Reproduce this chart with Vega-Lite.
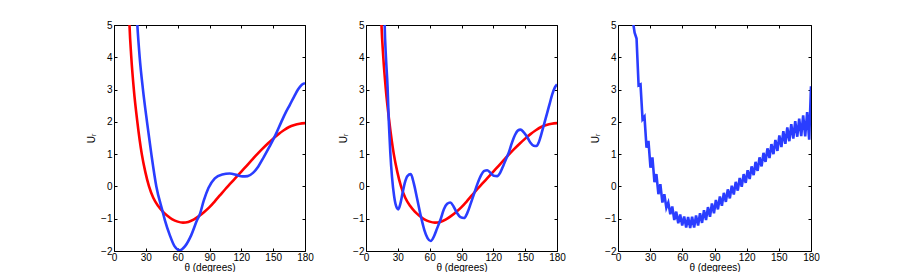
{
  "$schema": "https://vega.github.io/schema/vega-lite/v6.json",
  "padding": {"left": 86, "top": 20, "right": 0, "bottom": 0},
  "background": "white",
  "config": {
    "font": "Liberation Sans",
    "view": {"stroke": null},
    "axis": {
      "grid": false,
      "domainColor": "#000",
      "domainWidth": 1,
      "tickColor": "#000",
      "tickWidth": 1,
      "tickSize": -3,
      "labelColor": "#000",
      "titleColor": "#000",
      "labelFont": "Liberation Sans",
      "titleFont": "Liberation Sans",
      "labelFontSize": 10,
      "titleFontSize": 10,
      "titleFontWeight": "normal",
      "labelFlush": false,
      "labelOverlap": false,
      "labelPadding": 3
    },
    "axisBottom": {"labelPadding": 4, "titlePadding": 0},
    "axisLeft": {"labelPadding": 5}
  },
  "datasets": {
    "red": [
      {"t": 13.8, "u": 5.8}, {"t": 14.6, "u": 5.0}, {"t": 16.3, "u": 4.0}, {"t": 18.7, "u": 3.0},
      {"t": 22, "u": 2.0}, {"t": 26.2, "u": 1.0}, {"t": 29.5, "u": 0.45}, {"t": 33, "u": 0.0},
      {"t": 37, "u": -0.35}, {"t": 41.5, "u": -0.6}, {"t": 46, "u": -0.78},
      {"t": 50, "u": -0.9}, {"t": 55, "u": -1.02}, {"t": 60, "u": -1.09}, {"t": 65, "u": -1.12},
      {"t": 70, "u": -1.1}, {"t": 75, "u": -1.03}, {"t": 80, "u": -0.92}, {"t": 85, "u": -0.79},
      {"t": 90, "u": -0.64}, {"t": 95, "u": -0.46}, {"t": 100, "u": -0.27}, {"t": 105, "u": -0.08},
      {"t": 110, "u": 0.1}, {"t": 115, "u": 0.28}, {"t": 120, "u": 0.46}, {"t": 125, "u": 0.64},
      {"t": 130, "u": 0.82}, {"t": 135, "u": 1.0}, {"t": 140, "u": 1.17}, {"t": 145, "u": 1.33},
      {"t": 150, "u": 1.48}, {"t": 155, "u": 1.62}, {"t": 160, "u": 1.74}, {"t": 165, "u": 1.84},
      {"t": 170, "u": 1.9}, {"t": 175, "u": 1.94}, {"t": 180, "u": 1.96}
    ],
    "blue1": [
      {"t": 21, "u": 5.6}, {"t": 22, "u": 5.0}, {"t": 24.2, "u": 4.0}, {"t": 27.3, "u": 3.0},
      {"t": 31.1, "u": 2.0}, {"t": 35.2, "u": 1.0}, {"t": 39.9, "u": 0.0}, {"t": 45.6, "u": -0.75},
      {"t": 48, "u": -1.05}, {"t": 52.5, "u": -1.5}, {"t": 57, "u": -1.85}, {"t": 62, "u": -1.98},
      {"t": 67, "u": -1.85}, {"t": 72.9, "u": -1.5}, {"t": 78.2, "u": -1.05}, {"t": 81, "u": -0.85},
      {"t": 84.5, "u": -0.45}, {"t": 89, "u": -0.05}, {"t": 95, "u": 0.25}, {"t": 102, "u": 0.37},
      {"t": 109, "u": 0.4}, {"t": 116, "u": 0.35}, {"t": 121, "u": 0.31}, {"t": 126, "u": 0.32},
      {"t": 131, "u": 0.42}, {"t": 136, "u": 0.62}, {"t": 141, "u": 0.9}, {"t": 146, "u": 1.2},
      {"t": 152, "u": 1.58}, {"t": 157.7, "u": 2.0}, {"t": 162, "u": 2.3}, {"t": 165.6, "u": 2.52},
      {"t": 170, "u": 2.8}, {"t": 173.4, "u": 3.0}, {"t": 177, "u": 3.15}, {"t": 180, "u": 3.2}
    ],
    "blue2": [
      {"t": 16.8, "u": 6.5}, {"t": 17.6, "u": 5.0}, {"t": 18.8, "u": 4.0}, {"t": 20.3, "u": 3.1},
      {"t": 21.5, "u": 2.0}, {"t": 22.9, "u": 1.05}, {"t": 24.5, "u": 0.3}, {"t": 26.5, "u": -0.3},
      {"t": 28.5, "u": -0.62}, {"t": 30.4, "u": -0.71}, {"t": 32.3, "u": -0.55}, {"t": 34.5, "u": -0.2},
      {"t": 36.5, "u": 0.1}, {"t": 39, "u": 0.32}, {"t": 42.2, "u": 0.38}, {"t": 45, "u": 0.1},
      {"t": 48, "u": -0.35}, {"t": 51.6, "u": -0.91}, {"t": 55, "u": -1.35}, {"t": 58, "u": -1.6},
      {"t": 61, "u": -1.69}, {"t": 64, "u": -1.55}, {"t": 67, "u": -1.3}, {"t": 70.5, "u": -1.0},
      {"t": 73.5, "u": -0.7}, {"t": 76.5, "u": -0.54}, {"t": 79.4, "u": -0.5}, {"t": 82.5, "u": -0.62},
      {"t": 85.6, "u": -0.81}, {"t": 89, "u": -0.95}, {"t": 92.4, "u": -0.98}, {"t": 95.5, "u": -0.82},
      {"t": 98.5, "u": -0.55}, {"t": 101.6, "u": -0.25}, {"t": 105, "u": 0.08}, {"t": 108.5, "u": 0.35},
      {"t": 111.5, "u": 0.48}, {"t": 114.2, "u": 0.5}, {"t": 117, "u": 0.43}, {"t": 120.3, "u": 0.33},
      {"t": 123.6, "u": 0.32}, {"t": 126.5, "u": 0.43}, {"t": 129.5, "u": 0.65}, {"t": 132, "u": 0.85},
      {"t": 134.6, "u": 1.05}, {"t": 137.5, "u": 1.35}, {"t": 140.5, "u": 1.6}, {"t": 143, "u": 1.73},
      {"t": 145.6, "u": 1.76}, {"t": 148.5, "u": 1.68}, {"t": 151.9, "u": 1.53}, {"t": 155, "u": 1.35},
      {"t": 158, "u": 1.26}, {"t": 160.7, "u": 1.25}, {"t": 163, "u": 1.38}, {"t": 165.5, "u": 1.65},
      {"t": 167.6, "u": 1.9}, {"t": 170.5, "u": 2.25}, {"t": 173, "u": 2.55}, {"t": 175.5, "u": 2.85},
      {"t": 178, "u": 3.07}, {"t": 180, "u": 3.16}
    ],
    "blue3": [
      {"t": 13.5, "u": 5.2}, {"t": 15.5, "u": 4.76}, {"t": 17.3, "u": 4.58}, {"t": 19.2, "u": 3.13},
      {"t": 21.0, "u": 3.16}, {"t": 22.9, "u": 2.08}, {"t": 24.7, "u": 2.16}, {"t": 26.6, "u": 1.2},
      {"t": 28.4, "u": 1.41}, {"t": 30.3, "u": 0.58}, {"t": 32.1, "u": 0.9}, {"t": 34.0, "u": 0.13},
      {"t": 35.8, "u": 0.38}, {"t": 37.7, "u": -0.24}, {"t": 39.5, "u": 0.07}, {"t": 41.4, "u": -0.5},
      {"t": 43.2, "u": -0.24}, {"t": 45.1, "u": -0.66}, {"t": 46.9, "u": -0.5}, {"t": 48.8, "u": -0.86},
      {"t": 50.6, "u": -0.62}, {"t": 52.5, "u": -1.04}, {"t": 54.3, "u": -0.78}, {"t": 56.2, "u": -1.14},
      {"t": 58.0, "u": -0.87}, {"t": 59.9, "u": -1.21}, {"t": 61.7, "u": -0.93}, {"t": 63.6, "u": -1.27},
      {"t": 65.4, "u": -0.95}, {"t": 67.3, "u": -1.29}, {"t": 69.1, "u": -0.94}, {"t": 71.0, "u": -1.27},
      {"t": 72.8, "u": -0.9}, {"t": 74.7, "u": -1.21}, {"t": 76.5, "u": -0.83}, {"t": 78.4, "u": -1.13},
      {"t": 80.2, "u": -0.74}, {"t": 82.1, "u": -1.04}, {"t": 83.9, "u": -0.64}, {"t": 85.8, "u": -0.94},
      {"t": 87.6, "u": -0.53}, {"t": 89.5, "u": -0.83}, {"t": 91.3, "u": -0.42}, {"t": 93.2, "u": -0.71},
      {"t": 95.0, "u": -0.31}, {"t": 96.9, "u": -0.6}, {"t": 98.7, "u": -0.2}, {"t": 100.6, "u": -0.48},
      {"t": 102.4, "u": -0.09}, {"t": 104.3, "u": -0.37}, {"t": 106.1, "u": 0.02}, {"t": 108.0, "u": -0.25},
      {"t": 109.8, "u": 0.14}, {"t": 111.7, "u": -0.13}, {"t": 113.5, "u": 0.26}, {"t": 115.4, "u": -0.01},
      {"t": 117.2, "u": 0.38}, {"t": 119.1, "u": 0.11}, {"t": 120.9, "u": 0.5}, {"t": 122.8, "u": 0.23},
      {"t": 124.6, "u": 0.62}, {"t": 126.5, "u": 0.35}, {"t": 128.3, "u": 0.76}, {"t": 130.2, "u": 0.48},
      {"t": 132.0, "u": 0.9}, {"t": 133.9, "u": 0.62}, {"t": 135.7, "u": 1.04}, {"t": 137.6, "u": 0.76},
      {"t": 139.4, "u": 1.18}, {"t": 141.3, "u": 0.88}, {"t": 143.1, "u": 1.31}, {"t": 145.0, "u": 1.0},
      {"t": 146.8, "u": 1.44}, {"t": 148.7, "u": 1.1}, {"t": 150.5, "u": 1.58}, {"t": 152.4, "u": 1.22},
      {"t": 154.2, "u": 1.71}, {"t": 156.1, "u": 1.32}, {"t": 157.9, "u": 1.83}, {"t": 159.8, "u": 1.4},
      {"t": 161.6, "u": 1.93}, {"t": 163.5, "u": 1.48}, {"t": 165.3, "u": 2.02}, {"t": 167.2, "u": 1.54},
      {"t": 169.0, "u": 2.1}, {"t": 170.9, "u": 1.56}, {"t": 172.7, "u": 2.2}, {"t": 174.6, "u": 1.55},
      {"t": 176.4, "u": 2.3}, {"t": 178.3, "u": 1.45}, {"t": 180.0, "u": 3.1}
    ]
  },
  "hconcat": [
    {
      "width": 191, "height": 226,
      "layer": [
        {
          "data": {"name": "red"},
          "mark": {"type": "line", "color": "#ff0000", "strokeWidth": 2.6, "clip": true, "interpolate": "monotone"},
          "encoding": {
            "x": {"field": "t", "type": "quantitative", "scale": {"domain": [0, 180], "nice": false}, "axis": {"values": [0, 30, 60, 90, 120, 150, 180], "title": "θ (degrees)"}},
            "y": {"field": "u", "type": "quantitative", "scale": {"domain": [-2, 5], "nice": false}, "axis": {"values": [-2, -1, 0, 1, 2, 3, 4, 5], "title": "Uᵣ", "titlePadding": 4}}
          }
        },
        {
          "data": {"name": "blue1"},
          "mark": {"type": "line", "color": "#2a3dff", "strokeWidth": 2.6, "clip": true, "interpolate": "monotone"},
          "encoding": {
            "x": {"field": "t", "type": "quantitative", "scale": {"domain": [0, 180], "nice": false}, "axis": {"orient": "top", "values": [0, 30, 60, 90, 120, 150, 180], "labels": false, "title": null}},
            "y": {"field": "u", "type": "quantitative", "scale": {"domain": [-2, 5], "nice": false}, "axis": {"orient": "right", "values": [-2, -1, 0, 1, 2, 3, 4, 5], "labels": false, "title": null}}
          }
        }
      ],
      "resolve": {"axis": {"x": "independent", "y": "independent"}}
    },
    {
      "width": 191, "height": 226,
      "layer": [
        {
          "data": {"name": "red"},
          "mark": {"type": "line", "color": "#ff0000", "strokeWidth": 2.6, "clip": true, "interpolate": "monotone"},
          "encoding": {
            "x": {"field": "t", "type": "quantitative", "scale": {"domain": [0, 180], "nice": false}, "axis": {"values": [0, 30, 60, 90, 120, 150, 180], "title": "θ (degrees)"}},
            "y": {"field": "u", "type": "quantitative", "scale": {"domain": [-2, 5], "nice": false}, "axis": {"values": [-2, -1, 0, 1, 2, 3, 4, 5], "title": "Uᵣ", "titlePadding": 4}}
          }
        },
        {
          "data": {"name": "blue2"},
          "mark": {"type": "line", "color": "#2a3dff", "strokeWidth": 2.6, "clip": true, "interpolate": "monotone"},
          "encoding": {
            "x": {"field": "t", "type": "quantitative", "scale": {"domain": [0, 180], "nice": false}, "axis": {"orient": "top", "values": [0, 30, 60, 90, 120, 150, 180], "labels": false, "title": null}},
            "y": {"field": "u", "type": "quantitative", "scale": {"domain": [-2, 5], "nice": false}, "axis": {"orient": "right", "values": [-2, -1, 0, 1, 2, 3, 4, 5], "labels": false, "title": null}}
          }
        }
      ],
      "resolve": {"axis": {"x": "independent", "y": "independent"}}
    },
    {
      "width": 193, "height": 226,
      "layer": [
        {
          "data": {"name": "red"},
          "mark": {"type": "line", "color": "#ff0000", "strokeWidth": 2, "strokeOpacity": 0, "clip": true, "interpolate": "monotone"},
          "encoding": {
            "x": {"field": "t", "type": "quantitative", "scale": {"domain": [0, 180], "nice": false}, "axis": {"values": [0, 30, 60, 90, 120, 150, 180], "title": "θ (degrees)"}},
            "y": {"field": "u", "type": "quantitative", "scale": {"domain": [-2, 5], "nice": false}, "axis": {"values": [-2, -1, 0, 1, 2, 3, 4, 5], "title": "Uᵣ", "titlePadding": 4}}
          }
        },
        {
          "data": {"name": "blue3"},
          "mark": {"type": "line", "color": "#2a3dff", "strokeWidth": 2.6, "clip": true},
          "encoding": {
            "x": {"field": "t", "type": "quantitative", "scale": {"domain": [0, 180], "nice": false}, "axis": {"orient": "top", "values": [0, 30, 60, 90, 120, 150, 180], "labels": false, "title": null}},
            "y": {"field": "u", "type": "quantitative", "scale": {"domain": [-2, 5], "nice": false}, "axis": {"orient": "right", "values": [-2, -1, 0, 1, 2, 3, 4, 5], "labels": false, "title": null}}
          }
        }
      ],
      "resolve": {"axis": {"x": "independent", "y": "independent"}}
    }
  ],
  "spacing": 61,
  "bounds": "flush"
}
